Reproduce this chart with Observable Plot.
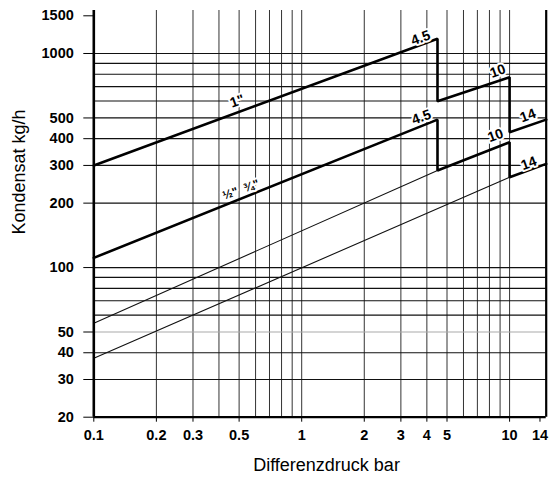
<!DOCTYPE html>
<html><head><meta charset="utf-8">
<script src="https://cdn.jsdelivr.net/npm/d3@7"></script>
<script src="https://cdn.jsdelivr.net/npm/@observablehq/plot@0.6"></script>
<style>body{margin:0;background:#fff;}</style>
</head><body><div id="chart"></div>
<script>
// tick labels and grid
const xTicks = [0.1, 0.2, 0.3, 0.5, 1, 2, 3, 4, 5, 10, 14];
const yTicks = [20, 30, 40, 50, 100, 200, 300, 400, 500, 1000, 1500];
const xGrid = [0.2, 0.3, 0.4, 0.5, 0.6, 0.7, 0.8, 0.9, 1, 2, 3, 4, 5, 6, 7, 8, 9, 10];
const yGrid = [30, 40, 60, 70, 80, 90, 100, 200, 300, 400, 500, 600, 700, 800, 900, 1000];
const yGridLight = [50];

// series (Differenzdruck bar -> Kondensat kg/h)
const inch1X = [0.1, 4.5, 4.5, 10, 10, 15];
const inch1Y = [300, 1171, 599, 775, 429, 491];
const halfX = [0.1, 4.5, 4.5, 10, 10, 15];
const halfY = [111, 491, 284, 385, 264, 305];
const thinAX = [0.1, 4.5];
const thinAY = [55, 284];
const thinBX = [0.1, 10];
const thinBY = [37.7, 264];

// line labels
const labelText = ['1"', '4.5', '10', '4.5', '14', '10', '14', '½"  ¾"'];
const labelX = [0.49, 3.73, 8.77, 3.76, 12.24, 8.55, 12.37, 0.51];
const labelY = [599, 1181, 827, 504, 513, 414, 307, 231];
const labelSize = [14, 14, 14, 14, 14, 14, 14, 12];

const toPts = (xs, ys) => xs.map((x, i) => ({x, y: ys[i]}));
const labels = labelText.map((t, i) => ({t, x: labelX[i], y: labelY[i], s: labelSize[i]}));

const font = "'Liberation Sans', Arial, Helvetica, sans-serif";

const chart = Plot.plot({
  width: 549,
  height: 477,
  marginLeft: 93.3,
  marginRight: 3.3,
  marginTop: 10,
  marginBottom: 60.3,
  style: {fontFamily: font, background: "#fff", color: "#000"},
  x: {type: "log", domain: [0.1, 15], axis: null},
  y: {type: "log", domain: [20, 1588], axis: null},
  marks: [
    Plot.ruleX(xGrid, {stroke: "#333", strokeWidth: 1}),
    Plot.ruleY(yGrid, {stroke: "#111", strokeWidth: 1.2}),
    Plot.ruleY(yGridLight, {stroke: "#aaa", strokeWidth: 1.2}),
    Plot.line(toPts(thinAX, thinAY), {x: "x", y: "y", stroke: "#111", strokeWidth: 1.1}),
    Plot.line(toPts(thinBX, thinBY), {x: "x", y: "y", stroke: "#111", strokeWidth: 1.1}),
    Plot.line(toPts(inch1X, inch1Y), {x: "x", y: "y", stroke: "#000", strokeWidth: 2.6, strokeLinejoin: "miter"}),
    Plot.line(toPts(halfX, halfY), {x: "x", y: "y", stroke: "#000", strokeWidth: 2.6, strokeLinejoin: "miter"}),
    Plot.text(labels, {x: "x", y: "y", text: "t", fontSize: d => d.s, fontWeight: "bold", rotate: -20,
      stroke: "white", strokeWidth: 4, fill: "#000", paintOrder: "stroke", textAnchor: "middle", lineAnchor: "middle"}),
    Plot.ruleX([0.1], {stroke: "#000", strokeWidth: 2.6}),
    Plot.ruleX([15], {stroke: "#000", strokeWidth: 2.2}),
    Plot.ruleY([20], {stroke: "#000", strokeWidth: 2.2}),
    Plot.axisX({ticks: xTicks, tickFormat: d => String(d), tickSize: 5, tickPadding: 8, fontSize: 14.5, fontWeight: "bold", label: null, stroke: "#000"}),
    Plot.axisY({ticks: yTicks, tickFormat: d => String(d), tickSize: 10, tickPadding: 10, fontSize: 14.5, fontWeight: "bold", label: null, stroke: "#000"}),
    Plot.text(["Differenzdruck bar"], {frameAnchor: "bottom", dx: 6.5, dy: 48, fontSize: 18, lineAnchor: "middle"}),
    Plot.text(["Kondensat kg/h"], {frameAnchor: "left", dx: -74.3, dy: 20.7, rotate: -90, fontSize: 18, lineAnchor: "middle"})
  ]
});
document.getElementById("chart").appendChild(chart);
</script>
</body></html>
